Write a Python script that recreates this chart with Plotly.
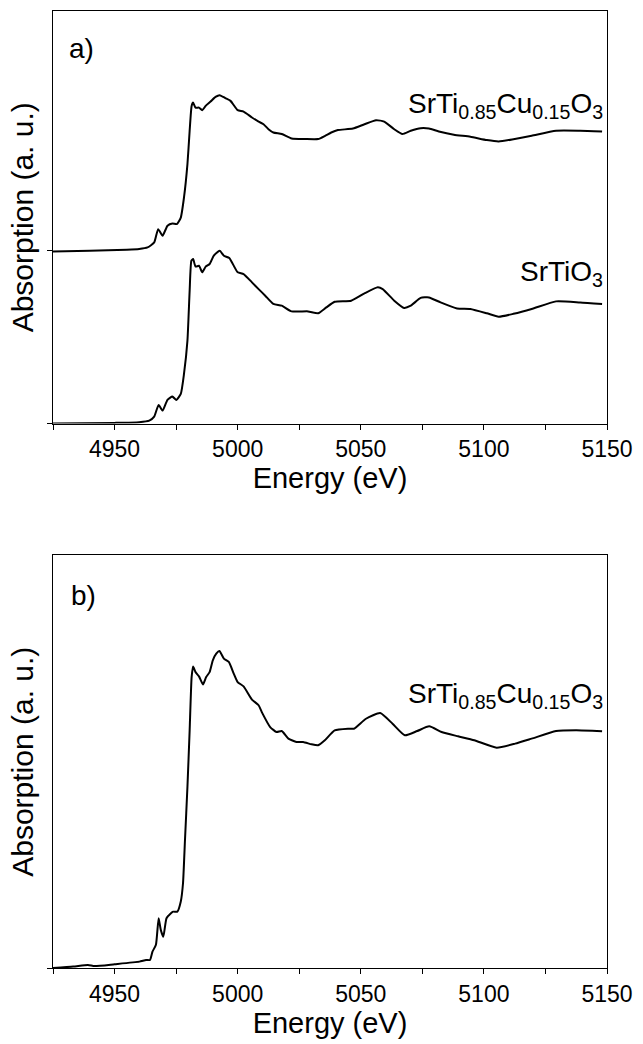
import plotly.graph_objects as go
from plotly.subplots import make_subplots

# ---------------- data ----------------
# Panel a) upper curve: SrTi0.85Cu0.15O3 (offset by +1)
energy_cu_a = [4925, 4940, 4955, 4960, 4963.4, 4966.1, 4967.7, 4969.5, 4971.5, 4973.5,
               4975.3, 4976.9, 4978.2, 4979.6, 4980.5, 4981.3, 4981.9, 4982.9, 4984.3, 4985.6,
               4987.0, 4989.0, 4991.0, 4992.7, 4995.0, 4997.1, 5000.0, 5002.4, 5005.8, 5008.5,
               5010.5, 5012.5, 5014.5, 5017.9, 5021.9, 5027.3, 5032.7, 5035.5, 5038.0, 5040.7,
               5046.8, 5051.5, 5056.2, 5059.5, 5063.6, 5066.9, 5070.3, 5074.3, 5077.7, 5081.7,
               5087.8, 5094.5, 5101.2, 5106, 5112, 5119.4, 5129.3, 5139.1, 5148]
absorb_cu_a = [0.996, 1.000, 1.006, 1.010, 1.019, 1.048, 1.125, 1.087, 1.145, 1.158,
               1.154, 1.192, 1.308, 1.501, 1.694, 1.838, 1.857, 1.828, 1.828, 1.813,
               1.838, 1.863, 1.890, 1.900, 1.883, 1.867, 1.813, 1.805, 1.771, 1.747,
               1.732, 1.703, 1.684, 1.675, 1.649, 1.646, 1.646, 1.665, 1.684, 1.698,
               1.707, 1.732, 1.755, 1.747, 1.703, 1.675, 1.694, 1.709, 1.707, 1.690,
               1.671, 1.659, 1.640, 1.632, 1.645, 1.665, 1.694, 1.694, 1.690]

# Panel a) lower curve: SrTiO3
energy_sto = [4925, 4950, 4960, 4964.1, 4966.1, 4967.9, 4969.5, 4971.5, 4973.5, 4975.1,
              4976.9, 4978.2, 4979.6, 4980.5, 4981.2, 4981.9, 4982.9, 4984.3, 4985.6, 4987.0,
              4988.6, 4990.3, 4992.7, 4994.4, 4996.6, 5000.0, 5002.4, 5005.8, 5008.5, 5011.2,
              5014.5, 5017.9, 5021.9, 5028.6, 5032.7, 5036.0, 5039.4, 5046.1, 5051.5, 5056.9,
              5058.9, 5063.6, 5067.6, 5070.3, 5074.3, 5077.7, 5082.4, 5089.1, 5094.5, 5101.2,
              5106, 5112, 5119.4, 5129.3, 5139.1, 5148]
absorb_sto = [0.000, 0.004, 0.008, 0.017, 0.040, 0.108, 0.075, 0.137, 0.156, 0.137,
              0.172, 0.287, 0.480, 0.769, 0.942, 0.952, 0.908, 0.913, 0.875, 0.908,
              0.923, 0.971, 1.000, 0.971, 0.958, 0.875, 0.865, 0.817, 0.778, 0.740,
              0.692, 0.682, 0.649, 0.649, 0.638, 0.672, 0.705, 0.711, 0.753, 0.788,
              0.778, 0.711, 0.669, 0.682, 0.727, 0.730, 0.701, 0.666, 0.663, 0.638,
              0.618, 0.635, 0.663, 0.707, 0.701, 0.692]

# Panel b): SrTi0.85Cu0.15O3
energy_cu_b = [4925, 4933.2, 4939.2, 4941.9, 4950, 4960.1, 4962.8, 4964.4, 4965.4, 4966.8,
               4967.9, 4968.8, 4969.8, 4971.1, 4972.9, 4973.8, 4975.5, 4976.9, 4977.8, 4978.6,
               4979.6, 4980.5, 4981.3, 4981.9, 4982.9, 4984.3, 4985.9, 4987.2, 4988.6, 4989.9,
               4991.3, 4992.6, 4994.4, 4996.4, 4998.4, 5000.0, 5002.4, 5005.8, 5008.5, 5009.8,
               5013.2, 5015.8, 5017.9, 5020.6, 5023.9, 5026.6, 5030.0, 5032.7, 5035.4, 5039.4,
               5044.8, 5047.2, 5052.1, 5057.9, 5062.9, 5067.9, 5072.9, 5077.8, 5082.8, 5089.5,
               5096.1, 5105.2, 5112.7, 5119.4, 5129.3, 5137.5, 5148]
absorb_cu_b = [0.000, 0.006, 0.013, 0.008, 0.016, 0.027, 0.034, 0.034, 0.069, 0.098,
               0.210, 0.160, 0.132, 0.210, 0.231, 0.238, 0.238, 0.281, 0.358, 0.541,
               0.766, 1.004, 1.229, 1.274, 1.250, 1.232, 1.198, 1.229, 1.250, 1.300,
               1.328, 1.339, 1.307, 1.293, 1.244, 1.208, 1.190, 1.134, 1.110, 1.081,
               1.018, 0.997, 1.001, 0.969, 0.955, 0.955, 0.945, 0.941, 0.962, 1.004,
               1.011, 1.011, 1.053, 1.077, 1.032, 0.983, 1.001, 1.021, 0.997, 0.979,
               0.962, 0.931, 0.948, 0.969, 1.001, 1.004, 1.000]

x_tickvals = [4925, 4950, 4975, 5000, 5025, 5050, 5075, 5100, 5125, 5150]
x_ticktext = ["", "4950", "", "5000", "", "5050", "", "5100", "", "5150"]

label_cu = "SrTi<sub>0.85</sub>Cu<sub>0.15</sub>O<sub>3</sub>"
label_sto = "SrTiO<sub>3</sub>"

# ---------------- figure ----------------
FONT = "Liberation Sans, Arial, sans-serif"
H = 1044
top_px, mid_a, mid_b, bot_px = 10, 423, 555, 968
plot_h = bot_px - top_px

fig = make_subplots(rows=2, cols=1, vertical_spacing=0.0)

line = dict(color="black", width=2, shape="spline", smoothing=0.5)
fig.add_trace(go.Scatter(x=energy_cu_a, y=absorb_cu_a, mode="lines", line=line,
                         showlegend=False, hoverinfo="skip"), row=1, col=1)
fig.add_trace(go.Scatter(x=energy_sto, y=absorb_sto, mode="lines", line=line,
                         showlegend=False, hoverinfo="skip"), row=1, col=1)
fig.add_trace(go.Scatter(x=energy_cu_b, y=absorb_cu_b, mode="lines", line=line,
                         showlegend=False, hoverinfo="skip"), row=2, col=1)

xaxis_common = dict(range=[4925, 5150], tickmode="array", tickvals=x_tickvals,
                    ticktext=x_ticktext, ticks="outside", ticklen=5, tickwidth=1,
                    tickcolor="black", showline=True, linecolor="black", linewidth=1,
                    mirror=True, showgrid=False, zeroline=False,
                    tickfont=dict(family=FONT, size=23, color="black"),
                    title=dict(text="Energy (eV)", font=dict(family=FONT, size=29, color="black"),
                               standoff=6))
yaxis_common = dict(showline=True, linecolor="black", linewidth=1, mirror=True,
                    showgrid=False, zeroline=False, ticks="outside", ticklen=5,
                    tickwidth=1, tickcolor="black", showticklabels=False,
                    title=dict(text="Absorption (a. u.)",
                               font=dict(family=FONT, size=30, color="black"), standoff=4))

fig.update_layout(
    width=643, height=H,
    margin=dict(l=53, r=32, t=top_px, b=H - bot_px),
    plot_bgcolor="white", paper_bgcolor="white",
    xaxis=dict(**xaxis_common, domain=[0, 1]),
    xaxis2=dict(**xaxis_common, domain=[0, 1]),
    yaxis=dict(**yaxis_common, range=[0, 2.387], tickmode="array", tickvals=[0, 1.0],
               domain=[(bot_px - mid_a) / plot_h, 1]),
    yaxis2=dict(**yaxis_common, range=[0, 1.743], tickmode="array", tickvals=[0],
                domain=[0, (bot_px - mid_b) / plot_h]),
)

ann_font = dict(family=FONT, size=28, color="black")
fig.add_annotation(text="a)", xref="x domain", yref="y domain", x=0.025, y=0.908,
                   xanchor="left", yanchor="middle", showarrow=False, font=ann_font)
fig.add_annotation(text="b)", xref="x2 domain", yref="y2 domain", x=0.028, y=0.904,
                   xanchor="left", yanchor="middle", showarrow=False, font=ann_font)
fig.add_annotation(text=label_cu, xref="x", yref="y", x=5149, y=1.84,
                   xanchor="right", yanchor="middle", showarrow=False, font=ann_font)
fig.add_annotation(text=label_sto, xref="x", yref="y", x=5149, y=0.87,
                   xanchor="right", yanchor="middle", showarrow=False, font=ann_font)
fig.add_annotation(text=label_cu, xref="x2", yref="y2", x=5149, y=1.15,
                   xanchor="right", yanchor="middle", showarrow=False, font=ann_font)

fig.write_html("out.html")
